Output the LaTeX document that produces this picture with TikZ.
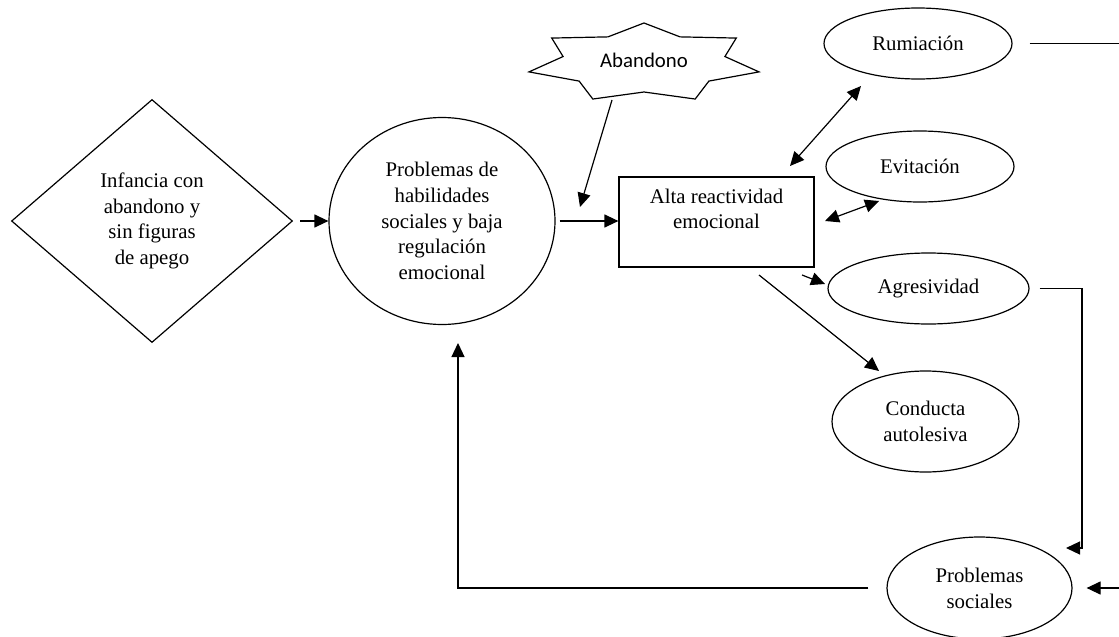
\documentclass[tikz,border=0pt]{standalone}
\usepackage{fontspec}
\setmainfont{Liberation Serif}
\newfontfamily\abfont{Carlito}
\usetikzlibrary{shapes.geometric,arrows.meta}

\begin{document}
\begin{tikzpicture}[x=0.5pt,y=-0.5pt,->,>={Triangle[length=7pt,width=6.5pt]},line width=0.6pt,
    every node/.style={font=\fontsize{10.4}{12.9}\selectfont,align=center,inner sep=0pt},
    oval/.style={draw,ellipse},
    node distance=145pt]
        \useasboundingbox (0,0) rectangle (1119,637);
        % nodi
        \node[draw,diamond,minimum width=140.5pt,minimum height=121.5pt] (infancia) at (152,221) {Infancia con\\abandono y\\sin figuras\\de apego};
        \node[oval,minimum width=113pt,minimum height=103.5pt] (habil) [right of=infancia] {Problemas de\\habilidades\\sociales y baja\\regulación\\emocional};
        \node[draw,minimum width=97.5pt,minimum height=45pt] (reactiv) at (716.5,222) {Alta reactividad\\emocional\\[-3.5pt]\strut};
        \node[oval,minimum width=94pt,minimum height=35.5pt] (rumia) at (918,43.5) {Rumiación};
        \node[oval,minimum width=94pt,minimum height=35.5pt] (evita) at (920,166.5) {Evitación};
        \node[oval,minimum width=100.5pt,minimum height=35.5pt] (agres) at (928.5,288.5) {Agresividad};
        \node[oval,minimum width=93.5pt,minimum height=50.5pt] (conduc) at (925.5,421.5) {Conducta\\autolesiva};
        \node[oval,minimum width=92.5pt,minimum height=51pt] (probsoc) at (979.5,588) {Problemas\\sociales};
        % estrella
        \draw[-,line join=miter,shift={(644,63)}] (-90:118 and 40)
            \foreach \k in {0,...,6} { -- ({-90+(\k+0.5)*360/7}:83 and 29) -- ({-90+(\k+1)*360/7}:118 and 40) } -- cycle;
        \node[font=\abfont\fontsize{10.4}{12.9}\selectfont] (aband) at (644,60) {Abandono};
        % puntos libres
        \coordinate (abtail) at (612,100);
        \coordinate (abhead) at (580,207);
        \coordinate (ru1) at (790,166);
        \coordinate (ru2) at (861,86);
        \coordinate (ev1) at (825,221);
        \coordinate (ev2) at (879,201);
        \coordinate (ag1) at (802,275);
        \coordinate (ag2) at (825,284);
        \coordinate (co1) at (759,275);
        \coordinate (co2) at (879,371);
        \coordinate (rumend) at (1119,43.5);
        \coordinate (agdown) at (1082,548);
        \coordinate (pshead) at (1066,548);
        \coordinate (rightin) at (1119,588);
        \coordinate (fbup) at (458,343);
        % archi
        \draw[shorten <=3.5pt] (infancia.east) -- (habil.west);
        \draw[shorten <=2pt] (habil.east) -- (reactiv.west |- habil.east);
        \draw (abtail) -- (abhead);
        \draw[<->] (ru1) -- (ru2);
        \draw[<->] (ev1) -- (ev2);
        \draw (ag1) -- (ag2);
        \draw (co1) -- (co2);
        \draw[-,shorten <=8.5pt] (rumia.east) -- (rumend);
        \draw[shorten <=5pt] (agres.east) -| (agdown) -- (pshead);
        \draw[shorten >=7pt] (rightin) -- (probsoc.east);
        \draw[shorten <=9pt] (probsoc.west) -| (fbup);
\end{tikzpicture}
\end{document}
